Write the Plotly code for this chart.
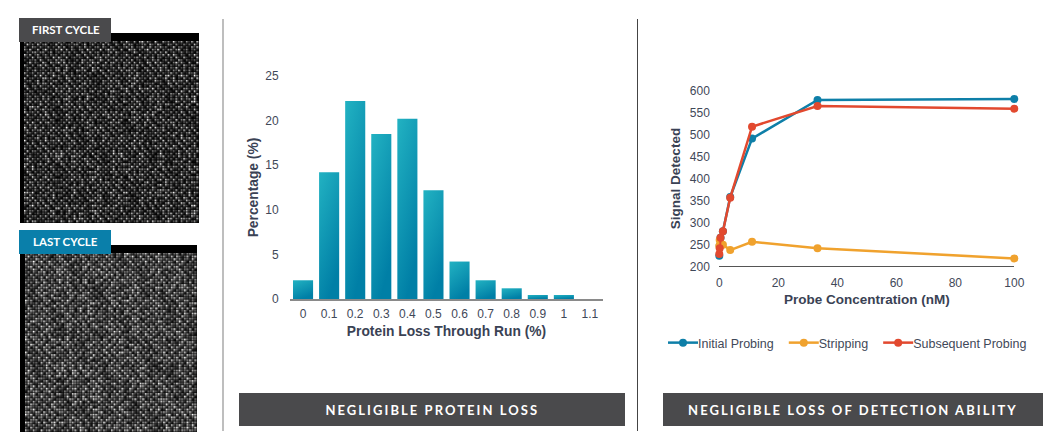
import numpy as np
import plotly.graph_objects as go

W, H = 1064, 448

# Bar chart
loss_categories = ["0", "0.1", "0.2", "0.3", "0.4", "0.5", "0.6", "0.7", "0.8", "0.9", "1", "1.1"]
loss_percentage = [2.1, 14.2, 22.2, 18.5, 20.2, 12.2, 4.2, 2.1, 1.2, 0.45, 0.45, 0]

# Line chart
probe_conc = [0, 0.137, 0.41, 1.23, 3.7, 11.1, 33.3, 100]
initial_probing = [224, 247, 265, 280, 358, 491, 579, 581]
stripping = [246, 260, 252, 249, 237, 256, 241, 218]
subsequent_probing = [228, 241, 265, 280, 356, 518, 565, 559]

# Micrographs: the reference photos cannot be read spot by spot, so these are
# hand-typed stand-in spot intensities, tiled only as a visual texture.
first_spots = [
    [200, 60, 230, 40, 170, 90, 250, 30, 120, 210, 50, 160, 70],
    [40, 240, 110, 190, 30, 220, 70, 140, 250, 30, 180, 90, 230],
    [150, 30, 70, 250, 120, 40, 200, 50, 90, 240, 60, 210, 30],
    [230, 100, 200, 30, 60, 240, 20, 180, 220, 40, 130, 50, 250],
    [30, 190, 50, 150, 230, 80, 160, 250, 30, 100, 240, 20, 140],
    [240, 70, 250, 20, 110, 200, 40, 90, 190, 50, 220, 80, 180],
    [90, 220, 30, 210, 40, 250, 130, 30, 240, 160, 20, 230, 60],
    [180, 40, 140, 80, 240, 30, 220, 70, 50, 250, 110, 40, 200],
    [20, 160, 230, 50, 190, 100, 30, 230, 150, 20, 210, 90, 120],
    [250, 90, 40, 240, 20, 170, 240, 60, 200, 80, 30, 250, 40],
    [60, 210, 170, 30, 130, 50, 110, 190, 30, 230, 140, 60, 220],
]
last_spots = [
    [170, 90, 210, 120, 70, 240, 100, 160, 60, 200, 130, 80, 230],
    [100, 230, 60, 180, 140, 50, 210, 80, 250, 110, 40, 190, 90],
    [200, 50, 150, 90, 250, 120, 70, 190, 130, 60, 220, 100, 150],
    [80, 190, 110, 240, 40, 170, 230, 50, 100, 240, 90, 170, 50],
    [240, 120, 70, 140, 200, 90, 130, 210, 70, 150, 200, 60, 210],
    [60, 160, 250, 50, 110, 220, 40, 120, 240, 40, 130, 250, 110],
    [190, 80, 100, 210, 170, 60, 200, 90, 170, 210, 70, 100, 180],
    [120, 240, 40, 130, 90, 250, 110, 230, 50, 120, 190, 40, 220],
    [220, 70, 190, 60, 230, 140, 70, 150, 100, 250, 60, 160, 80],
    [50, 150, 120, 250, 50, 100, 190, 40, 220, 80, 140, 230, 120],
    [160, 210, 80, 110, 180, 40, 240, 130, 70, 170, 210, 50, 190],
]
mottle = [
    [1.0, 0.75, 1.1, 0.85, 0.65, 1.0, 0.9],
    [0.7, 1.1, 0.85, 1.0, 0.75, 0.6, 1.1],
    [0.9, 0.6, 1.0, 0.7, 1.1, 0.85, 0.75],
    [1.1, 0.85, 0.65, 0.9, 1.0, 0.7, 1.0],
    [0.75, 1.0, 0.9, 0.6, 0.85, 1.1, 0.65],
]


def lattice(tile, rows, cols, gain, gap, shift):
    t = np.array(tile, dtype=float)
    m = np.array(mottle)
    out = np.zeros((rows, cols))
    for r in range(rows):
        for c in range(cols):
            spot = t[(r + (c // 13) * shift) % t.shape[0], (c + (r // 11) * 5) % t.shape[1]]
            out[r, c] = spot * gain * m[(r // 3 + c // 7) % m.shape[0], (c // 2 + r // 5) % m.shape[1]]
    big = np.zeros((rows * 2, cols * 2))
    big[0::2, 0::2] = out
    big[0::2, 1::2] = out * gap
    big[1::2, 0::2] = out * gap
    big[1::2, 1::2] = out * gap * 0.5
    return big


def fx(a, b):
    return [a / W, b / W]


def fy(top, bottom):
    return [1 - bottom / H, 1 - top / H]


TEXT = "#3f4858"
TITLE = "#3a4254"
FONT = "Liberation Sans, Arial, sans-serif"

fig = go.Figure()

fig.add_trace(go.Heatmap(z=lattice(first_spots, 70, 67, 1.12, 0.36, 3), xaxis="x3", yaxis="y3", zsmooth="fast",
                         colorscale="Gray", zmin=0, zmax=255, showscale=False, hoverinfo="skip"))
fig.add_trace(go.Heatmap(z=lattice(last_spots, 69, 66, 1.2, 0.5, 5), xaxis="x4", yaxis="y4", zsmooth="fast",
                         colorscale="Gray", zmin=0, zmax=255, showscale=False, hoverinfo="skip"))

fig.add_trace(go.Bar(x=loss_categories, y=loss_percentage, xaxis="x", yaxis="y", width=0.77,
                     marker=dict(color="#1398b4", line=dict(width=0)), showlegend=False))

for name, vals, col in [("Initial Probing", initial_probing, "#0e7fa8"),
                        ("Stripping", stripping, "#f0a22e"),
                        ("Subsequent Probing", subsequent_probing, "#e2492f")]:
    fig.add_trace(go.Scatter(x=probe_conc, y=vals, name=name, xaxis="x2", yaxis="y2", mode="lines+markers",
                             line=dict(color=col, width=2.5), marker=dict(color=col, size=8),
                             cliponaxis=False))

hidden = dict(visible=False, fixedrange=True)


def rect(x0, y0, x1, y1, color, layer="above"):
    return dict(type="rect", xref="paper", yref="paper", x0=x0 / W, x1=x1 / W, y0=1 - y0 / H, y1=1 - y1 / H,
                fillcolor=color, line=dict(width=0), layer=layer)


def vline(x, y0, y1, color, width):
    return dict(type="line", xref="paper", yref="paper", x0=x / W, x1=x / W, y0=1 - y0 / H, y1=1 - y1 / H,
                line=dict(color=color, width=width))


def label(x, y, text, size, family="Lato, sans-serif"):
    return dict(xref="paper", yref="paper", x=x / W, y=1 - y / H, text="<b>" + text + "</b>", showarrow=False,
                xanchor="center", yanchor="middle", font=dict(color="white", size=size, family=family))


fig.update_layout(
    width=W, height=H, margin=dict(l=0, r=0, t=0, b=0, autoexpand=False), paper_bgcolor="white",
    plot_bgcolor="rgba(0,0,0,0)",
    font=dict(family=FONT, color=TEXT, size=12), bargap=0.23,
    xaxis=dict(domain=fx(290, 603), type="category", range=[-0.5, 11.5], showline=True, linecolor="#8a8a8a",
               linewidth=1.5, ticks="outside", ticklen=3, tickcolor="rgba(0,0,0,0)", showgrid=False,
               tickfont=dict(size=12, color=TEXT), fixedrange=True,
               title=dict(text="<b>Protein Loss Through Run (%)</b>", font=dict(size=13.8, color=TITLE), standoff=6)),
    yaxis=dict(domain=fy(76, 299), range=[0, 25], tickvals=[0, 5, 10, 15, 20, 25], showgrid=False, zeroline=False,
               ticks="outside", ticklen=8, tickcolor="rgba(0,0,0,0)", tickfont=dict(size=12, color=TEXT),
               fixedrange=True,
               title=dict(text="<b>Percentage (%)</b>", font=dict(size=13.8, color=TITLE), standoff=3)),
    xaxis2=dict(domain=fx(719.3, 1014.3), range=[0, 100], tickvals=[0, 20, 40, 60, 80, 100], showline=True,
                linecolor="#555555", linewidth=1, showgrid=False, zeroline=False, ticks="outside", ticklen=5,
                tickcolor="rgba(0,0,0,0)", tickfont=dict(size=12, color=TEXT), anchor="y2", fixedrange=True,
                title=dict(text="<b>Probe Concentration (nM)</b>", font=dict(size=13.5, color=TITLE), standoff=5)),
    yaxis2=dict(domain=fy(90.7, 266.3), range=[200, 600], tickvals=[200, 250, 300, 350, 400, 450, 500, 550, 600],
                showgrid=False, zeroline=False, ticks="outside", ticklen=6, tickcolor="rgba(0,0,0,0)",
                tickfont=dict(size=12, color=TEXT), anchor="x2", fixedrange=True,
                title=dict(text="<b>Signal Detected</b>", font=dict(size=13.5, color=TITLE), standoff=6)),
    xaxis3=dict(domain=fx(24, 199), anchor="y3", **hidden),
    yaxis3=dict(domain=fy(41, 223), anchor="x3", autorange="reversed", **hidden),
    xaxis4=dict(domain=fx(25, 197), anchor="y4", **hidden),
    yaxis4=dict(domain=fy(253, 432), anchor="x4", autorange="reversed", **hidden),
    legend=dict(orientation="h", x=663 / W, y=1 - 343 / H, xanchor="left", yanchor="middle", itemwidth=30,
                bgcolor="rgba(0,0,0,0)", font=dict(size=12.5, color=TEXT), traceorder="normal"),
    shapes=[
        rect(20, 33, 199, 223, "#000000", "below"),
        rect(20, 245, 197, 432, "#000000", "below"),
        rect(19, 18, 111, 42, "#4a4a4c"),
        rect(19, 230, 111, 254, "#0a7faa"),
        rect(239, 393, 625, 426, "#4a4a4c"),
        rect(663, 393, 1043, 426, "#4a4a4c"),
        vline(223, 19, 431, "#a8a8a8", 1.5),
        vline(637.5, 19, 431, "#444444", 1),
    ],
    annotations=[
        label(65.5, 29, "FIRST CYCLE", 11.5),
        label(65.5, 241, "LAST CYCLE", 11.5),
        label(432, 409.5, "NEGLIGIBLE PROTEIN LOSS", 13),
        label(853, 409.5, "NEGLIGIBLE LOSS OF DETECTION ABILITY", 13),
    ],
)

post = """
document.documentElement.style.margin = '0';
document.documentElement.style.overflow = 'hidden';
document.body.style.margin = '0';
document.body.style.overflow = 'hidden';
var gd = document.getElementsByClassName('plotly-graph-div')[0];
gd.style.position = 'fixed';
gd.style.left = '0px';
gd.style.top = '0px';
var svg = gd.querySelector('svg.main-svg');
var ns = 'http://www.w3.org/2000/svg';
var defs = svg.querySelector('defs');
var g = document.createElementNS(ns, 'linearGradient');
g.setAttribute('id', 'barGrad');
g.setAttribute('x1', '0'); g.setAttribute('y1', '0'); g.setAttribute('x2', '0.45'); g.setAttribute('y2', '1');
[['0', '#22b2c2'], ['1', '#007fa6']].forEach(function (s) {
  var st = document.createElementNS(ns, 'stop');
  st.setAttribute('offset', s[0]); st.setAttribute('stop-color', s[1]);
  g.appendChild(st);
});
defs.appendChild(g);
gd.querySelectorAll('.barlayer .point path').forEach(function (p) { p.style.fill = 'url(#barGrad)'; });
gd.querySelectorAll('.annotation-text').forEach(function (t) {
  if (t.textContent.indexOf('NEGLIGIBLE') === 0) { t.style.letterSpacing = '2.05px'; }
});
gd.querySelectorAll('.legendtext').forEach(function (t) {
  t.setAttribute('x', parseFloat(t.getAttribute('x')) - 5);
});
"""

fig.write_html("out.html", config={"displayModeBar": False}, post_script=post)
